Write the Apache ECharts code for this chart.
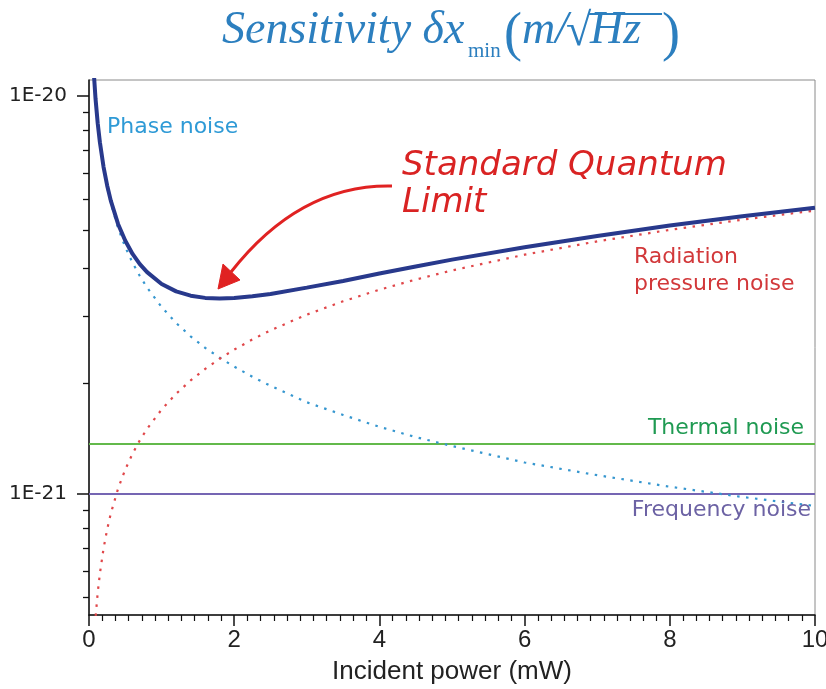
<!DOCTYPE html>
<html>
<head>
<meta charset="utf-8">
<script src="https://cdn.jsdelivr.net/npm/echarts@6/dist/echarts.min.js"></script>
<style>
  html, body { margin: 0; padding: 0; background: #ffffff; }
  #chart { width: 826px; height: 689px; }
</style>
</head>
<body>
<div id="chart"></div>
<script>
// ---- data ----
const power = [0.04, 0.05, 0.07, 0.09, 0.12, 0.15, 0.2, 0.25, 0.3, 0.4,
               0.5, 0.6, 0.7, 0.8, 1.0, 1.2, 1.4, 1.6, 1.8, 2.0,
               2.25, 2.5, 3, 3.5, 4, 4.5, 5, 6, 7, 8,
               9, 10];
const phaseNoise = [14.75e-21, 13.19e-21, 11.15e-21, 9.83e-21, 8.52e-21, 7.62e-21, 6.60e-21, 5.90e-21, 5.39e-21, 4.66e-21,
                    4.17e-21, 3.81e-21, 3.53e-21, 3.30e-21, 2.95e-21, 2.69e-21, 2.49e-21, 2.33e-21, 2.20e-21, 2.09e-21,
                    1.97e-21, 1.87e-21, 1.70e-21, 1.58e-21, 1.475e-21, 1.39e-21, 1.32e-21, 1.20e-21, 1.115e-21, 1.043e-21,
                    0.983e-21, 0.933e-21];
const radiationNoise = [0.326e-21, 0.364e-21, 0.431e-21, 0.489e-21, 0.565e-21, 0.631e-21, 0.729e-21, 0.815e-21, 0.893e-21, 1.031e-21,
                        1.153e-21, 1.263e-21, 1.364e-21, 1.458e-21, 1.63e-21, 1.786e-21, 1.929e-21, 2.062e-21, 2.187e-21, 2.305e-21,
                        2.445e-21, 2.577e-21, 2.823e-21, 3.049e-21, 3.26e-21, 3.458e-21, 3.645e-21, 3.993e-21, 4.313e-21, 4.61e-21,
                        4.89e-21, 5.155e-21];
const totalNoise = [14.75e-21, 13.20e-21, 11.16e-21, 9.84e-21, 8.54e-21, 7.65e-21, 6.64e-21, 5.96e-21, 5.46e-21, 4.77e-21,
                    4.33e-21, 4.01e-21, 3.78e-21, 3.61e-21, 3.37e-21, 3.23e-21, 3.15e-21, 3.11e-21, 3.10e-21, 3.11e-21,
                    3.14e-21, 3.18e-21, 3.30e-21, 3.43e-21, 3.58e-21, 3.73e-21, 3.88e-21, 4.17e-21, 4.45e-21, 4.73e-21,
                    4.99e-21, 5.24e-21];
const thermalPower = [0, 10];
const thermalNoise = [1.335e-21, 1.335e-21];
const frequencyPower = [0, 10];
const frequencyNoise = [1.0e-21, 1.0e-21];

const xTickValues = [0, 2, 4, 6, 8, 10];
const xTickLabels = ['0', '2', '4', '6', '8', '10'];
const yTickValues = [1e-21, 1e-20];
const yTickLabels = ['1E-21', '1E-20'];
const yMinorTicks = [9.1e-21, 8.2e-21, 7.3e-21, 6.4e-21, 5.5e-21, 4.6e-21, 3.7e-21, 2.8e-21, 1.9e-21,
                     9.1e-22, 8.2e-22, 7.3e-22, 6.4e-22, 5.5e-22];
const yMin = 4.966e-22, yMax = 1.097e-20;

const pairs = (xs, ys) => xs.map((x, i) => [x, ys[i]]);

const chart = echarts.init(document.getElementById('chart'), null, { renderer: 'canvas' });

const SANS = "'DejaVu Sans', 'Liberation Sans', sans-serif";
const SERIF = "'Liberation Serif', 'DejaVu Serif', serif";
const titleColor = '#2c7fbf';

function txt(text, x, y, font, fill, align) {
  return {
    type: 'text', z: 100, silent: true,
    style: {
      text: text, x: x, y: y, font: font, fill: fill,
      align: align || 'left', verticalAlign: 'middle',
      textAlign: align || 'left', textVerticalAlign: 'middle'
    }
  };
}

const option = {
  animation: false,
  backgroundColor: '#ffffff',
  grid: { left: 89, right: 11, top: 80, bottom: 74, show: true, borderColor: '#8a8a8a', borderWidth: 1,
          backgroundColor: 'transparent', containLabel: false, outerBoundsMode: 'none' },
  xAxis: {
    type: 'value', min: 0, max: 10, interval: 2,
    name: 'Incident power (mW)', nameLocation: 'middle', nameGap: 44,
    nameTextStyle: { fontFamily: "'Liberation Sans', Arial, sans-serif", fontSize: 26, color: '#222' },
    axisLine: { show: true, onZero: false, lineStyle: { color: '#111', width: 1.5 } },
    axisTick: { show: true, length: 11, lineStyle: { color: '#111', width: 1.5 } },
    minorTick: { show: true, splitNumber: 11, length: 6, lineStyle: { color: '#111', width: 1.2 } },
    axisLabel: {
      margin: 13, fontFamily: "'Liberation Sans', Arial, sans-serif", fontSize: 24, color: '#222',
      formatter: v => { const i = xTickValues.indexOf(v); return i >= 0 ? xTickLabels[i] : ''; }
    },
    splitLine: { show: false }, minorSplitLine: { show: false }
  },
  yAxis: [{
    type: 'log', logBase: 10, min: yMin, max: yMax, position: 'left',
    axisLine: { show: true, onZero: false, lineStyle: { color: '#111', width: 1.5 } },
    axisTick: { show: true, length: 12, customValues: yTickValues, lineStyle: { color: '#111', width: 1.5 } },
    axisLabel: {
      margin: 22, fontFamily: SANS, fontSize: 20, color: '#222', customValues: yTickValues,
      formatter: v => {
        let best = 0, bd = Infinity;
        yTickValues.forEach((t, i) => { const d = Math.abs(Math.log10(v) - Math.log10(t)); if (d < bd) { bd = d; best = i; } });
        return yTickLabels[best];
      }
    },
    splitLine: { show: false }
  }, {
    type: 'log', logBase: 10, min: yMin, max: yMax, position: 'left', offset: 0,
    axisLine: { show: false },
    axisTick: { show: true, length: 6, customValues: yMinorTicks, lineStyle: { color: '#111', width: 1.3 } },
    axisLabel: { show: false },
    splitLine: { show: false }
  }],
  series: [
    {
      name: 'Thermal noise', type: 'line', showSymbol: false, symbol: 'none', clip: true,
      data: pairs(thermalPower, thermalNoise),
      lineStyle: { color: '#63b94b', width: 2 }, z: 2
    },
    {
      name: 'Frequency noise', type: 'line', showSymbol: false, symbol: 'none', clip: true,
      data: pairs(frequencyPower, frequencyNoise),
      lineStyle: { color: '#7565b3', width: 2 }, z: 2
    },
    {
      name: 'Phase noise', type: 'line', showSymbol: false, symbol: 'none', clip: true,
      data: pairs(power, phaseNoise),
      lineStyle: { color: '#3596cf', width: 2.2, type: [2.5, 6.5] }, z: 3
    },
    {
      name: 'Radiation pressure noise', type: 'line', showSymbol: false, symbol: 'none', clip: true,
      data: pairs(power, radiationNoise),
      lineStyle: { color: '#e0474a', width: 2.2, type: [2.5, 6.5] }, z: 3
    },
    {
      name: 'Standard Quantum Limit', type: 'line', showSymbol: false, symbol: 'none', clip: true,
      data: pairs(power, totalNoise),
      lineStyle: { color: '#28398c', width: 4 }, z: 5
    }
  ],
  graphic: [
    // title
    txt('Sensitivity δx', 222, 31, 'italic 46px ' + SERIF, titleColor),
    txt('min', 468, 51, '21px ' + SERIF, titleColor),
    txt('(', 504, 36, '54px ' + SERIF, titleColor),
    txt('m/', 522, 31, 'italic 46px ' + SERIF, titleColor),
    txt('√', 566, 33, '46px ' + SERIF, titleColor),
    { type: 'line', z: 100, silent: true, shape: { x1: 588, y1: 14, x2: 662, y2: 14 }, style: { stroke: titleColor, lineWidth: 2 } },
    txt('Hz', 590, 31, 'italic 46px ' + SERIF, titleColor),
    txt(')', 662, 36, '54px ' + SERIF, titleColor),
    // annotations
    txt('Phase noise', 107, 127, '22px ' + SANS, '#2e9ad6'),
    txt('Standard Quantum', 402, 166, 'italic 34px ' + SANS, '#d92323'),
    txt('Limit', 402, 203, 'italic 34px ' + SANS, '#d92323'),
    txt('Radiation', 634, 257, '22px ' + SANS, '#d2383a'),
    txt('pressure noise', 634, 284, '22px ' + SANS, '#d2383a'),
    txt('Thermal noise', 804, 428, '22px ' + SANS, '#1f9a52', 'right'),
    txt('Frequency noise', 811, 510, '22px ' + SANS, '#6c62a4', 'right'),
    // arrow
    { type: 'bezierCurve', z: 100, silent: true,
      shape: { x1: 392, y1: 186, cpx1: 300, cpy1: 184, x2: 231, y2: 272 },
      style: { stroke: '#e02222', lineWidth: 3, fill: null } },
    { type: 'polygon', z: 100, silent: true,
      shape: { points: [[218, 289], [240, 280], [223, 264]] },
      style: { fill: '#e02222', stroke: '#e02222', lineWidth: 1 } }
  ]
};

chart.setOption(option);
</script>
</body>
</html>
